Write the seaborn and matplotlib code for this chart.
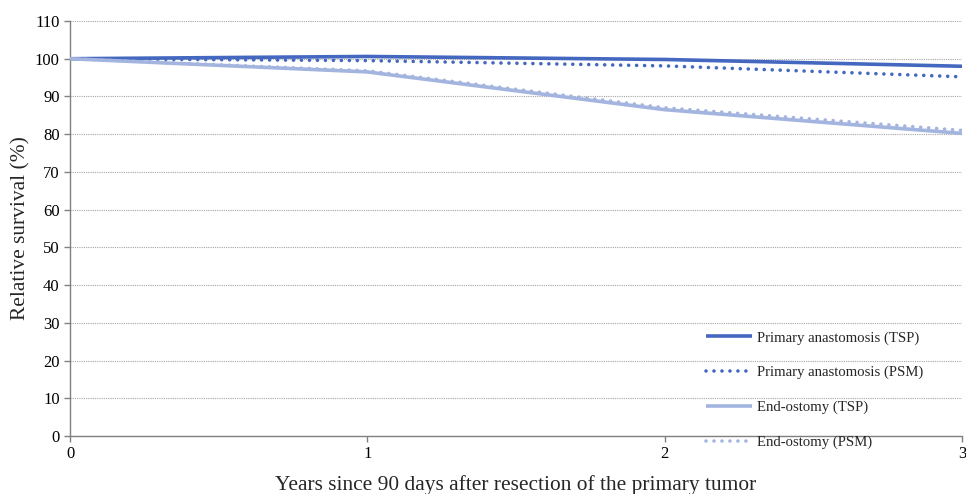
import numpy as np
import pandas as pd
import matplotlib
matplotlib.use("Agg")
import matplotlib.pyplot as plt
import seaborn as sns

# Data (years since 90 days after resection)
years = [0, 1, 2, 3]
primary_tsp = [100, 100.6, 99.8, 98.0]
primary_psm = [100, 99.5, 98.1, 95.2]
ostomy_tsp = [100, 96.5, 86.5, 80.2]
ostomy_psm = [100, 96.8, 87.0, 81.0]

labels = ["Primary anastomosis (TSP)", "Primary anastomosis (PSM)",
          "End-ostomy (TSP)", "End-ostomy (PSM)"]

df = pd.DataFrame({
    "Years": years * 4,
    "Survival": primary_tsp + primary_psm + ostomy_tsp + ostomy_psm,
    "Group": [labels[0]] * 4 + [labels[1]] * 4 + [labels[2]] * 4 + [labels[3]] * 4,
})

sns.set_style("white")
plt.rcParams['font.family'] = ['Liberation Serif', 'DejaVu Serif']

dark = "#4468C0"
light = "#A3B4DF"
palette = {labels[0]: dark, labels[1]: dark, labels[2]: light, labels[3]: light}

fig = plt.figure(figsize=(9.66, 4.94), dpi=100)
ax = fig.add_axes([0.0725, 0.1174, 0.9234, 0.8401])

styles = {labels[0]: '-', labels[1]: ':', labels[2]: '-', labels[3]: ':'}
for lab in labels:
    sub = df[df["Group"] == lab]
    sns.lineplot(data=sub, x="Years", y="Survival", ax=ax, color=palette[lab],
                 linestyle=styles[lab], linewidth=2.6, label=lab,
                 dash_capstyle='round', solid_capstyle='butt', zorder=3)

for line in ax.get_lines():
    if line.get_linestyle() == ':':
        line.set_dashes([0.01, 2.2])
        line.set_dash_capstyle('round')

ax.set_xlim(0, 3)
ax.set_ylim(0, 110)
ax.set_xticks([0, 1, 2, 3])
ax.set_yticks(range(0, 111, 10))
ax.yaxis.grid(True, color='#a6a6a6', linestyle=(0, (1, 1)), linewidth=0.8)
ax.set_axisbelow(True)

for s in ['top', 'right']:
    ax.spines[s].set_visible(False)
for s in ['left', 'bottom']:
    ax.spines[s].set_color('#808080')
    ax.spines[s].set_linewidth(1.0)

ax.tick_params(axis='both', direction='out', length=4, width=1, color='#808080',
               labelsize=12, labelcolor='black', left=True, bottom=True)
ax.set_xlabel("Years since 90 days after resection of the primary tumor", fontsize=15.4, labelpad=9)
ax.set_ylabel("Relative survival (%)", fontsize=15.4, labelpad=3)

leg = ax.legend(loc='center left', bbox_to_anchor=(0.7308, 0.2105),
                bbox_transform=fig.transFigure, frameon=False, borderpad=0,
                borderaxespad=0, fontsize=10.6, handlelength=3.1,
                handletextpad=0.35, labelspacing=1.45)
for h in leg.get_lines():
    h.set_linewidth(2.6)

fig.savefig("out.png", dpi=100)
